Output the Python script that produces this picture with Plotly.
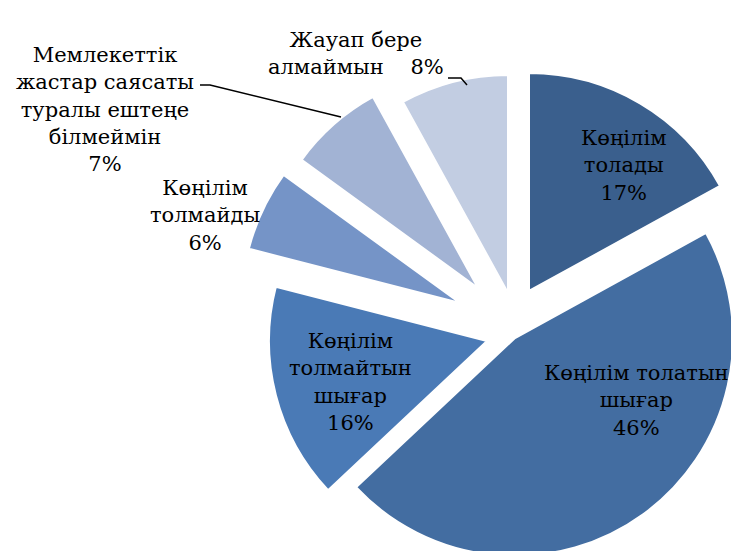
import plotly.graph_objects as go

W, H = 739, 551
R = 218  # radius of every slice, px

labels = ["Көңілім толады", "Көңілім толатын шығар", "Көңілім толмайтын шығар",
          "Көңілім толмайды", "Мемлекеттік жастар саясаты туралы ештеңе білмеймін",
          "Жауап бере алмаймын"]
values = [17, 46, 16, 6, 7, 8]
colors = ["#3A5F8D", "#436DA1", "#4A7AB6", "#7594C7", "#A2B3D4", "#C2CDE2"]

# how the labels wrap on the chart
label_lines = ["Көңілім<br>толады", "Көңілім толатын<br>шығар", "Көңілім<br>толмайтын<br>шығар",
               "Көңілім<br>толмайды", "Мемлекеттік<br>жастар саясаты<br>туралы ештеңе<br>білмеймін",
               "Жауап бере<br>алмаймын"]
pct_sep = ["<br>", "<br>", "<br>", "<br>", "<br>", "\u00a0" * 4]

# centre of each exploded slice and of its label, px from top left
centres = [(521, 283), (507, 330), (479, 333), (452, 295), (470, 280), (500, 285)]
label_pos = [(615, 157), (628, 393), (342, 374), (197, 207), (97, 102), (348, 46)]

FONT = "DejaVu Serif"

fig = go.Figure()
n = len(values)
for i in range(n):
    cx, cy = centres[i]
    fig.add_trace(go.Pie(
        labels=labels, values=values, sort=False, direction="clockwise", rotation=0,
        marker=dict(colors=[colors[j] if j == i else "rgba(0,0,0,0)" for j in range(n)],
                    line=dict(color=["white" if j == i else "rgba(0,0,0,0)" for j in range(n)],
                              width=[2 if j == i else 0 for j in range(n)])),
        textinfo="none",
        hoverinfo=["label+percent" if j == i else "none" for j in range(n)],
        domain=dict(x=[(cx - R) / W, (cx + R) / W], y=[(H - cy - R) / H, (H - cy + R) / H]),
        showlegend=False, name=""))

for i in range(n):
    px, py = label_pos[i]
    fig.add_annotation(text=label_lines[i] + pct_sep[i] + str(values[i]) + "%",
                       x=px / W, y=1 - py / H, xref="paper", yref="paper",
                       xanchor="center", yanchor="middle", align="center", showarrow=False,
                       font=dict(family=FONT, size=21, color="black"))

# leader lines of the two outside labels
def leader(points):
    d = "M " + " L ".join(f"{x / W},{1 - y / H}" for x, y in points)
    fig.add_shape(type="path", path=d, xref="paper", yref="paper",
                  line=dict(color="black", width=1.5))

leader([(192, 77), (202, 77), (333, 109)])
leader([(440, 70), (453, 70), (459, 77)])

fig.update_layout(width=W, height=H, margin=dict(l=0, r=0, t=0, b=0),
                  font=dict(family=FONT),
                  paper_bgcolor="white", plot_bgcolor="white", showlegend=False)
fig.write_html("out.html")
